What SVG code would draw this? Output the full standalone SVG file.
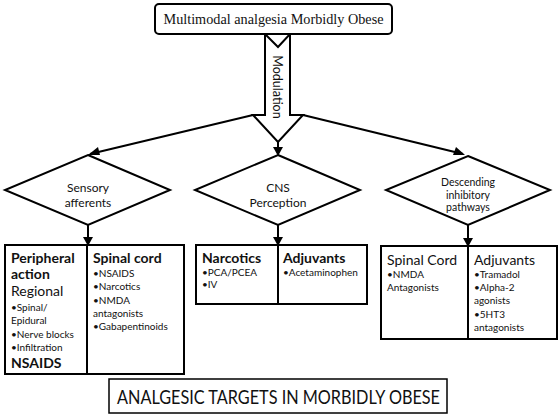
<svg xmlns="http://www.w3.org/2000/svg" width="560" height="416" viewBox="0 0 560 416">
<defs>
<style>
.ln{stroke:#000;stroke-width:2;fill:none}
.bx{stroke:#000;stroke-width:2;fill:#fff}
.ah{fill:#000}
.t{font-family:Lato,"Open Sans","Liberation Sans",sans-serif;fill:#111}
.h{font-size:14px;font-weight:bold}
.n{font-size:14px}
.s{font-size:10px}
.d{font-size:12px;text-anchor:middle}
.dd{font-size:10.5px;text-anchor:middle}
</style>
</defs>
<rect width="560" height="416" fill="#fff"/>
<g id="connectors">
<line class="ln" x1="253" y1="115" x2="90" y2="154"/>
<polygon class="ah" points="88,155 98,147 100,155"/>
<line class="ln" x1="303" y1="115" x2="463" y2="154"/>
<polygon class="ah" points="465,155 453,155 456,147"/>
<line class="ln" x1="278" y1="142" x2="278" y2="154"/>
<polygon class="ah" points="273,147 283,147 278,156"/>
<line class="ln" x1="88" y1="225" x2="88" y2="244"/>
<polygon class="ah" points="83,237 93,237 88,246"/>
<line class="ln" x1="278" y1="225" x2="278" y2="244"/>
<polygon class="ah" points="273,237 283,237 278,246"/>
<line class="ln" x1="468" y1="225" x2="468" y2="245"/>
<polygon class="ah" points="463,238 473,238 468,247"/>
</g>
<g id="modulation">
<path class="bx" d="M265,34 L278,47 L290,34 L290,115 L303,115 L278,142 L253,115 L265,115 Z" stroke-width="1.8"/>
<text class="t" font-size="12.5" transform="translate(273,87) rotate(90)" text-anchor="middle">Modulation</text>
</g>
<g id="title">
<rect x="155" y="4" width="237" height="30" rx="4" class="bx"/>
<text x="273.5" y="24" font-family="'Liberation Serif',serif" font-size="15" text-anchor="middle" textLength="220" lengthAdjust="spacingAndGlyphs" fill="#111">Multimodal analgesia Morbidly Obese</text>
</g>
<g id="sensory">
<polygon class="bx" points="88,155 170,190 88,225 5,190"/>
<text class="t d" x="88" y="192">Sensory</text>
<text class="t d" x="88" y="207">afferents</text>
</g>
<g id="cns">
<polygon class="bx" points="278,155 360,190 278,225 195,190"/>
<text class="t d" x="278" y="192">CNS</text>
<text class="t d" x="278" y="207">Perception</text>
</g>
<g id="descending">
<polygon class="bx" points="468,156 550,190 468,225 386,190"/>
<text class="t dd" x="468" y="186">Descending</text>
<text class="t dd" x="468" y="198.5">inhibitory</text>
<text class="t dd" x="468" y="211">pathways</text>
</g>
<g id="box-sensory">
<rect class="bx" x="5" y="245" width="179" height="129"/>
<line class="ln" x1="87" y1="245" x2="87" y2="374"/>
<text class="t h" x="11" y="263">Peripheral</text>
<text class="t h" x="11" y="279">action</text>
<text class="t n" x="11" y="296">Regional</text>
<text class="t s" x="11" y="311">•Spinal/</text>
<text class="t s" x="11" y="324">Epidural</text>
<text class="t s" x="11" y="338">•Nerve blocks</text>
<text class="t s" x="11" y="351">•Infiltration</text>
<text class="t h" x="11" y="368">NSAIDS</text>
<text class="t h" x="93" y="263">Spinal cord</text>
<text class="t s" x="93" y="277">•NSAIDS</text>
<text class="t s" x="93" y="290">•Narcotics</text>
<text class="t s" x="93" y="304">•NMDA</text>
<text class="t s" x="93" y="317">antagonists</text>
<text class="t s" x="93" y="330">•Gabapentinoids</text>
</g>
<g id="box-cns">
<rect class="bx" x="196" y="245" width="171" height="59"/>
<line class="ln" x1="278" y1="245" x2="278" y2="304"/>
<text class="t h" x="202" y="263">Narcotics</text>
<text class="t s" x="202" y="276">•PCA/PCEA</text>
<text class="t s" x="202" y="288">•IV</text>
<text class="t h" x="283" y="263">Adjuvants</text>
<text class="t s" x="283" y="276">•Acetaminophen</text>
</g>
<g id="box-descending">
<rect class="bx" x="381" y="246" width="176" height="93"/>
<line class="ln" x1="468" y1="246" x2="468" y2="339"/>
<text class="t n" x="387" y="265">Spinal Cord</text>
<text class="t s" x="387" y="278">•NMDA</text>
<text class="t s" x="387" y="291">Antagonists</text>
<text class="t n" x="474" y="265">Adjuvants</text>
<text class="t s" x="474" y="278">•Tramadol</text>
<text class="t s" x="474" y="291">•Alpha-2</text>
<text class="t s" x="474" y="304">agonists</text>
<text class="t s" x="474" y="318">•5HT3</text>
<text class="t s" x="474" y="331">antagonists</text>
</g>
<g id="caption">
<rect x="109" y="379" width="338" height="34" fill="#fff" stroke="#000" stroke-width="1.5"/>
<text class="t" x="117" y="404" font-size="19" textLength="323" lengthAdjust="spacingAndGlyphs">ANALGESIC TARGETS IN MORBIDLY OBESE</text>
</g>
</svg>
